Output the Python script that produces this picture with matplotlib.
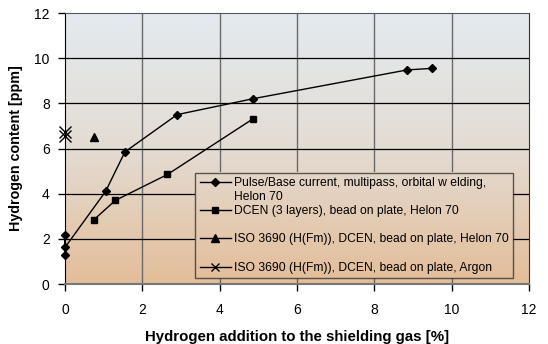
import numpy as np
import matplotlib
matplotlib.use('Agg')
import matplotlib.pyplot as plt
from matplotlib.colors import LinearSegmentedColormap
from matplotlib.lines import Line2D

plt.rcParams['font.family'] = ['Liberation Sans', 'DejaVu Sans']

# data
x_pulse = [0, 0, 0, 1.05, 1.55, 2.9, 4.85, 8.85, 9.5]
y_pulse = [1.3, 2.15, 1.62, 4.1, 5.85, 7.5, 8.2, 9.48, 9.55]
x_dcen = [0.75, 1.3, 2.65, 4.85]
y_dcen = [2.85, 3.7, 4.85, 7.3]
x_iso_he = [0.75]
y_iso_he = [6.5]
x_iso_ar = [0, 0]
y_iso_ar = [6.75, 6.55]

labels = ['Pulse/Base current, multipass, orbital w elding,',
          'DCEN (3 layers), bead on plate, Helon 70',
          'ISO 3690 (H(Fm)), DCEN, bead on plate, Helon 70',
          'ISO 3690 (H(Fm)), DCEN, bead on plate, Argon']

fig = plt.figure(figsize=(5.48, 3.44), dpi=100)
ax = fig.add_axes([0.1186, 0.1744, 0.8467, 0.7878])

# gradient background
cmap = LinearSegmentedColormap.from_list('bg', ['#e3bd99', '#e4dcd3', '#e3eaf0'])
ax.imshow(np.linspace(0, 1, 256).reshape(-1, 1), cmap=cmap, vmin=0, vmax=1, origin='lower',
          extent=[0, 12, 0, 12], aspect='auto', zorder=0)

for v in range(2, 12, 2):
    ax.axvline(v, color='#6a6a6a', lw=1.0, zorder=1)
for v in range(2, 12, 2):
    ax.axhline(v, color='black', lw=0.9, zorder=1)

l1, = ax.plot(x_pulse, y_pulse, 'k-', marker='D', ms=4, lw=1, zorder=3, clip_on=False)
l2, = ax.plot(x_dcen, y_dcen, 'k-', marker='s', ms=4.5, lw=1, zorder=3)
l3, = ax.plot(x_iso_he, y_iso_he, 'k-', marker='^', ms=6, lw=1, zorder=3)
ax.plot(x_iso_ar, y_iso_ar, color='k', marker='x', ms=9, mew=1, linestyle='none',
        zorder=3, clip_on=False)
l4 = Line2D([], [], color='k', lw=1, marker='x', ms=6)
blank = Line2D([], [], color='none')

ax.set_xticks(range(0, 13, 2))
ax.set_yticks(range(0, 13, 2))
ax.tick_params(labelsize=10, length=5, width=1, direction='out', pad=6)
ax.tick_params(axis='x', pad=9)
ax.spines['top'].set_color('#555555')
ax.spines['right'].set_color('#333333')
ax.spines['bottom'].set_color('#777777')
ax.spines['bottom'].set_linewidth(1.5)

ax.set_xlabel('Hydrogen addition to the shielding gas [%]', fontsize=10.8, fontweight='bold', labelpad=9)
ax.set_ylabel('Hydrogen content [ppm]', fontsize=10.3, fontweight='bold', labelpad=8)

handles = [l1, blank, l2, blank, l3, blank, l4]
texts = [labels[0], 'Helon 70', labels[1], ' ', labels[2], ' ', labels[3]]
leg = ax.legend(handles, texts, loc='lower right', bbox_to_anchor=(0.9655, 0.022), borderaxespad=0,
                fontsize=8.7, frameon=True, fancybox=False, edgecolor='#333333',
                handlelength=2.6, handletextpad=0.25, labelspacing=0.18, borderpad=0.35)
leg.get_frame().set_facecolor('none')
leg.get_frame().set_linewidth(1)
leg.set_zorder(4)

ax.set_xlim(0, 12)
ax.set_ylim(0, 12)

# legend box hides the grid: paint the same gradient behind it
fig.canvas.draw()
bb = leg.get_window_extent().transformed(ax.transData.inverted())
part = np.linspace(bb.y0 / 12, bb.y1 / 12, 64).reshape(-1, 1)
ax.imshow(part, cmap=cmap, vmin=0, vmax=1, origin='lower',
          extent=[bb.x0, bb.x1, bb.y0, bb.y1], aspect='auto', zorder=2)
ax.set_xlim(0, 12)
ax.set_ylim(0, 12)

fig.savefig('out.png', dpi=100)
